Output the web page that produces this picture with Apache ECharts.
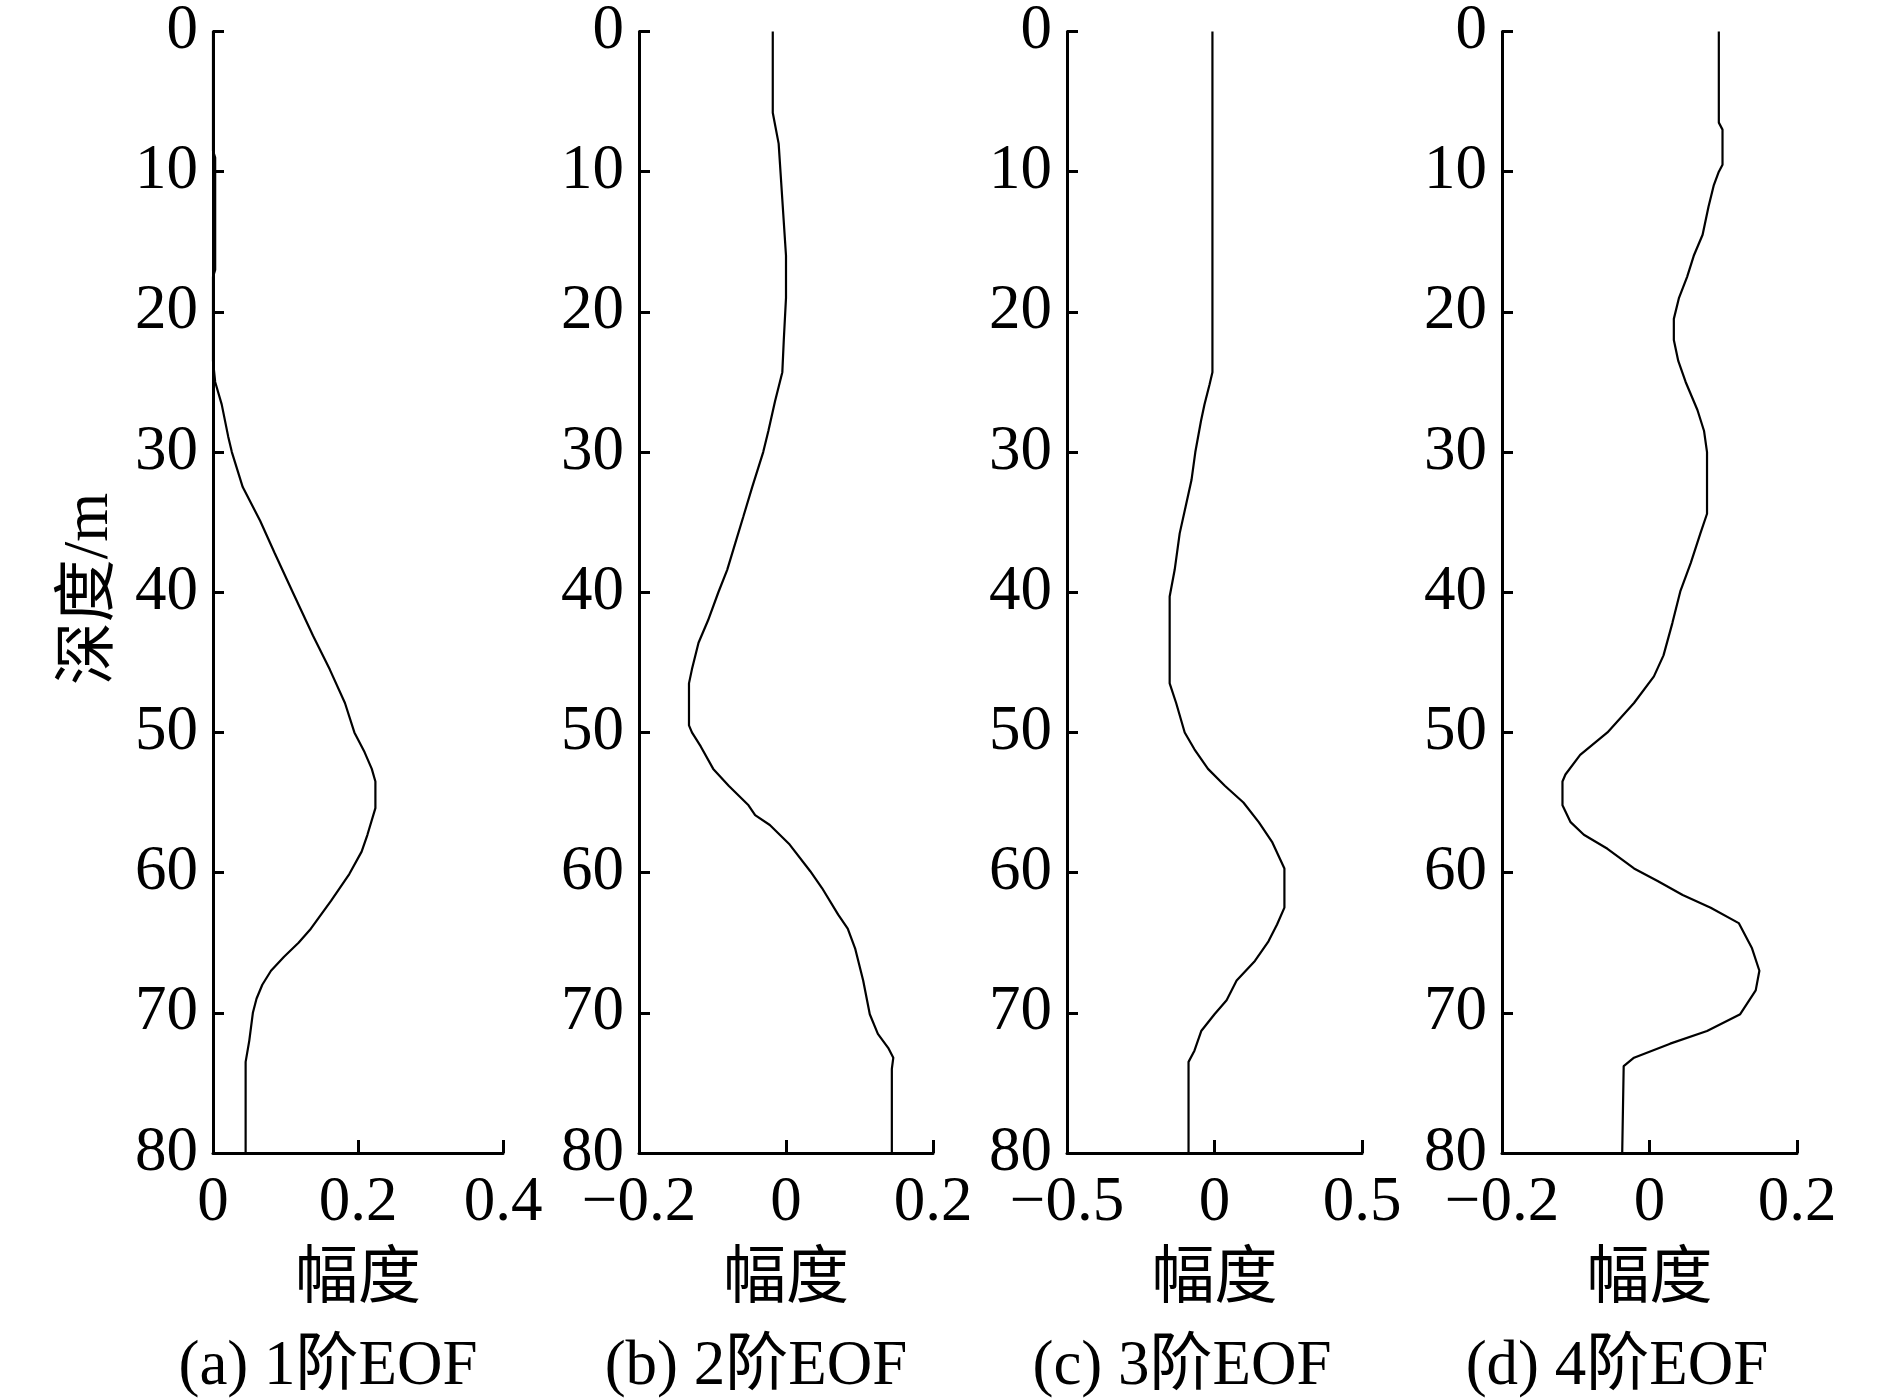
<!DOCTYPE html>
<html>
<head>
<meta charset="utf-8">
<script src="https://cdn.jsdelivr.net/npm/echarts@6/dist/echarts.min.js"></script>
<style>
html,body{margin:0;padding:0;background:#fff;}
#chart{width:1890px;height:1398px;}
</style>
</head>
<body>
<div id="chart"></div>
<script>
// ---- data (depth in m, amplitude) ----
const depthA = [0, 8.5, 9, 17, 17.5, 23.5, 25, 26.6, 28.9, 30, 32.5, 34.9, 37.2, 40, 43.1, 45.5, 47.9, 50, 51.4, 52.6, 53.5, 55.4, 57.3, 58.5, 60.1, 62, 64, 65, 66, 67, 68, 69, 70, 72, 73.5, 80];
const valA   = [0, 0, 0.003, 0.003, 0, 0, 0.003, 0.012, 0.021, 0.026, 0.041, 0.065, 0.085, 0.11, 0.138, 0.161, 0.182, 0.195, 0.209, 0.219, 0.224, 0.224, 0.213, 0.205, 0.188, 0.163, 0.135, 0.118, 0.098, 0.08, 0.068, 0.06, 0.055, 0.05, 0.045, 0.045];

const depthB = [0, 5.8, 8, 12, 16, 19, 22, 24.3, 26.4, 28.5, 30, 32.5, 34.6, 36.5, 38.4, 40, 42, 43.6, 45.5, 46.5, 49.5, 50, 51, 52.6, 53.8, 55.2, 55.9, 56.6, 58, 59.9, 61.1, 63, 64, 65.4, 67.7, 70.1, 71.5, 72.5, 73.2, 74, 80];
const valB   = [-0.018, -0.018, -0.01, -0.005, 0, 0, -0.003, -0.005, -0.015, -0.024, -0.031, -0.046, -0.058, -0.069, -0.08, -0.092, -0.106, -0.119, -0.128, -0.132, -0.132, -0.128, -0.116, -0.099, -0.078, -0.051, -0.042, -0.022, 0.005, 0.033, 0.049, 0.071, 0.084, 0.094, 0.105, 0.114, 0.125, 0.139, 0.146, 0.144, 0.144];

const depthC = [0, 24.3, 25.2, 26.6, 27.8, 30, 32, 33.9, 35.8, 38.4, 40.3, 46.5, 47.9, 50, 51.2, 52.6, 53.8, 55, 56.4, 57.8, 59.7, 62.5, 63.7, 64.9, 66.3, 67.7, 69.1, 70.1, 71.3, 72.7, 73.5, 80];
const valC   = [-0.007, -0.007, -0.017, -0.034, -0.046, -0.065, -0.078, -0.098, -0.118, -0.135, -0.152, -0.152, -0.13, -0.101, -0.068, -0.022, 0.035, 0.098, 0.15, 0.195, 0.237, 0.237, 0.212, 0.183, 0.137, 0.075, 0.041, 0.0, -0.045, -0.068, -0.088, -0.088];

const depthD = [0, 6.5, 7, 9.5, 10, 11, 12.5, 14.5, 16, 17.5, 19, 20.5, 22, 23.5, 25, 27, 28.5, 30, 34.4, 35.8, 37.9, 39.9, 42.2, 44.5, 46, 47.9, 50, 51.6, 53, 53.5, 55.2, 56.4, 57.3, 58.3, 59.7, 60.6, 61.6, 62.5, 63.6, 65.4, 67, 68.4, 70.1, 71.3, 72.2, 73.2, 73.8, 80];
const valD   = [0.094, 0.094, 0.099, 0.099, 0.094, 0.087, 0.08, 0.072, 0.06, 0.051, 0.04, 0.033, 0.033, 0.039, 0.049, 0.065, 0.074, 0.078, 0.078, 0.069, 0.056, 0.042, 0.031, 0.019, 0.006, -0.021, -0.057, -0.094, -0.114, -0.118, -0.118, -0.107, -0.089, -0.057, -0.021, 0.011, 0.045, 0.083, 0.121, 0.139, 0.149, 0.144, 0.123, 0.078, 0.028, -0.021, -0.035, -0.037];

const xRanges = [[0, 0.4, 0.2], [-0.2, 0.2, 0.2], [-0.5, 0.5, 0.5], [-0.2, 0.2, 0.2]];
const captions = ['(a) 1阶EOF', '(b) 2阶EOF', '(c) 3阶EOF', '(d) 4阶EOF'];
const xName = '幅度';
const yName = '深度/m';
const depthTicks = [0, 80, 10];

// ---- layout ----
const gridLefts = [213, 639, 1067, 1502];
const gridWidths = [290, 294, 295, 295];
const captionX = [328, 756, 1182, 1617];
const FONT = "'Liberation Serif', 'Noto Sans CJK SC', serif";
const FS = 63;

const depths = [depthA, depthB, depthC, depthD];
const vals = [valA, valB, valC, valD];

function fmt(v) {
  let s = String(Math.round(v * 10) / 10);
  return s.replace('-', '\u2212');
}

const grids = [], xAxes = [], yAxes = [], series = [];
for (let i = 0; i < 4; i++) {
  grids.push({left: gridLefts[i], width: gridWidths[i], top: 24, height: 1129, containLabel: false});
  xAxes.push({
    type: 'value', gridIndex: i, min: xRanges[i][0], max: xRanges[i][1], interval: xRanges[i][2],
    position: 'bottom',
    axisLine: {show: true, onZero: false, lineStyle: {color: '#000', width: 3}},
    axisTick: {show: true, inside: true, length: 13, lineStyle: {color: '#000', width: 3}},
    axisLabel: {color: '#000', fontFamily: FONT, fontSize: FS, margin: 19, formatter: fmt},
    splitLine: {show: false},
    name: xName, nameLocation: 'middle', nameGap: 96,
    nameTextStyle: {color: '#000', fontFamily: FONT, fontSize: FS}
  });
  yAxes.push({
    type: 'value', gridIndex: i, min: depthTicks[0], max: depthTicks[1], interval: depthTicks[2],
    inverse: true, position: 'left',
    axisLine: {show: true, onZero: false, lineStyle: {color: '#000', width: 3}},
    axisTick: {show: true, inside: true, length: 11, lineStyle: {color: '#000', width: 3}},
    axisLabel: {color: '#000', fontFamily: FONT, fontSize: FS, margin: 15},
    splitLine: {show: false}
  });
  series.push({
    type: 'line', xAxisIndex: i, yAxisIndex: i,
    data: depths[i].map((d, k) => [vals[i][k], d]),
    showSymbol: false, symbol: 'none', smooth: false,
    lineStyle: {color: '#000', width: 2.2}, clip: false, z: 5
  });
}

const graphics = captions.map((t, i) => ({
  type: 'text', x: captionX[i], y: 1367,
  style: {text: t, font: FS + 'px ' + FONT, fill: '#000', textAlign: 'center', textVerticalAlign: 'middle'}
}));
graphics.push({
  type: 'text', x: 90, y: 589, rotation: Math.PI / 2,
  style: {text: yName, font: FS + 'px ' + FONT, fill: '#000', textAlign: 'center', textVerticalAlign: 'middle'}
});

const chart = echarts.init(document.getElementById('chart'), null, {renderer: 'canvas'});
chart.setOption({
  backgroundColor: '#fff',
  animation: false,
  grid: grids, xAxis: xAxes, yAxis: yAxes, series: series,
  graphic: graphics
});
</script>
</body>
</html>
